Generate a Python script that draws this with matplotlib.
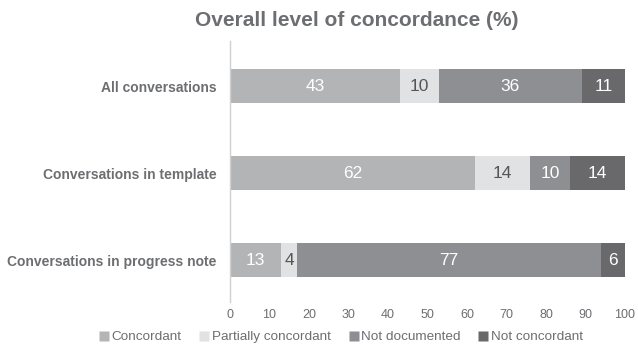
import matplotlib
matplotlib.use("Agg")
import matplotlib.pyplot as plt
from matplotlib.lines import Line2D

plt.rcParams["font.family"] = ["Liberation Sans", "DejaVu Sans"]

categories = ["All conversations", "Conversations in template", "Conversations in progress note"]
series = ["Concordant", "Partially concordant", "Not documented", "Not concordant"]
values = [
    [43, 62, 13],
    [10, 14, 4],
    [36, 10, 77],
    [11, 14, 6],
]
colors = ["#b3b4b6", "#e1e2e3", "#8e8f92", "#69696c"]
text_colors = ["white", "#555558", "white", "white"]
ticks = [0, 10, 20, 30, 40, 50, 60, 70, 80, 90, 100]

grey = "#6d6e71"

fig = plt.figure(figsize=(6.38, 3.47), dpi=100)
# axes box in pixels: x 230..625, y 41..302
ax = fig.add_axes([230 / 638, 1 - 302 / 347, 395 / 638, 261 / 347])

ypos = list(range(len(categories)))
left = [0] * len(categories)
for vals, col, tcol in zip(values, colors, text_colors):
    bars = ax.barh(ypos, vals, left=left, height=0.39, color=col, edgecolor="none")
    for b, v in zip(bars, vals):
        ax.text(b.get_x() + b.get_width() / 2, b.get_y() + b.get_height() / 2, str(v),
                ha="center", va="center", color=tcol, fontsize=12.5)
    left = [l + v for l, v in zip(left, vals)]

ax.set_ylim(2.476, -0.516)
ax.set_xlim(0, 100)
ax.set_xticks(ticks)
ax.set_xticklabels([str(t) for t in ticks], color=grey, fontsize=9)
ax.set_yticks(ypos)
ax.set_yticklabels(categories, fontweight="bold", color=grey, fontsize=10)
ax.tick_params(axis="both", length=0)
ax.tick_params(axis="y", pad=9.5)
ax.tick_params(axis="x", pad=5)
for s in ["top", "right", "bottom"]:
    ax.spines[s].set_visible(False)
ax.spines["left"].set_color("#d0d0d0")
ax.spines["left"].set_linewidth(1)

fig.text(357 / 638, 1 - 20 / 347, "Overall level of concordance (%)", ha="center", va="center",
         fontsize=15, fontweight="bold", color=grey)

handles = [Line2D([], [], marker="s", linestyle="none", markersize=6.5,
                  markerfacecolor=c, markeredgecolor="none") for c in colors]
fig.legend(handles, series, loc="center", bbox_to_anchor=(340 / 638, 1 - 337 / 347),
           ncol=4, frameon=False, fontsize=9.7, handletextpad=0.05, columnspacing=1.2,
           labelcolor=grey, handlelength=1, borderpad=0)

fig.savefig("out.png", dpi=100)
